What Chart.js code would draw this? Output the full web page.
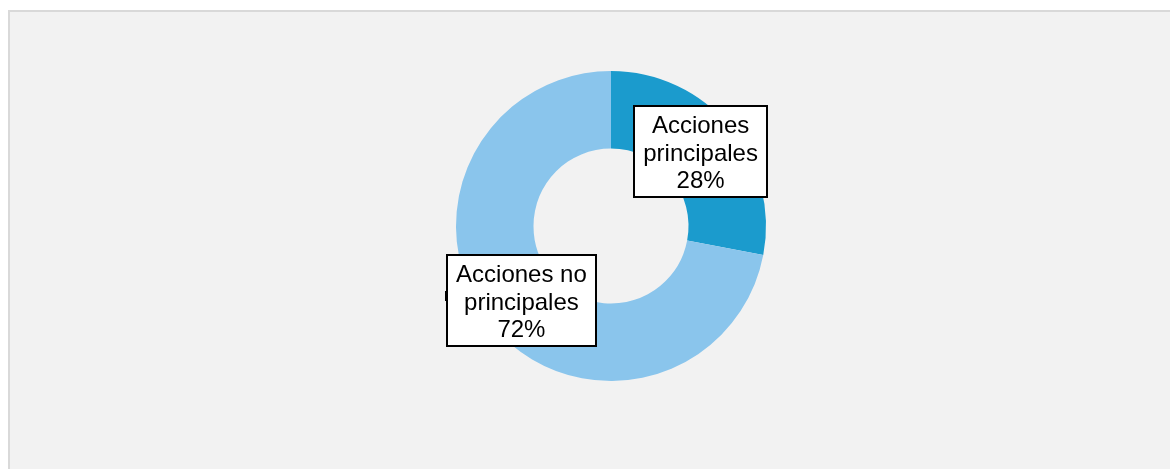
<!DOCTYPE html>
<html>
<head>
<meta charset="utf-8">
<script src="https://cdn.jsdelivr.net/npm/chart.js@4.4.1/dist/chart.umd.min.js"></script>
<style>
    html, body { margin: 0; padding: 0; background: #ffffff; }
    #wrap { position: relative; width: 1170px; height: 469px; overflow: hidden; }
    #panel {
        position: absolute; left: 8px; top: 10px; right: 0; bottom: 0;
        background: #f2f2f2;
        border-left: 2px solid #d9d9d9;
        border-top: 2px solid #d9d9d9;
    }
    #chart { position: absolute; left: 0; top: 0; }
</style>
</head>
<body>
<div id="wrap">
    <div id="panel"></div>
    <canvas id="chart" width="1170" height="469"></canvas>
</div>
<script>
// 数据
const categories = ['Acciones principales', 'Acciones no principales'];
const labelLines = [['Acciones', 'principales'], ['Acciones no', 'principales']];
const shares = [28, 72];
const sliceColors = ['#1b9bcd', '#8ac5ec'];

// 标签框插件：在每个扇区中心绘制白底黑框文字
const boxLabels = {
    id: 'boxLabels',
    afterDatasetsDraw(chart) {
        const ctx = chart.ctx;
        const meta = chart.getDatasetMeta(0);
        ctx.save();
        ctx.font = '24px "Liberation Sans", Arial, sans-serif';
        ctx.textAlign = 'center';
        ctx.textBaseline = 'middle';
        const lineH = 27.5;
        meta.data.forEach((arc, i) => {
            const pos = arc.tooltipPosition();
            const lines = labelLines[i].concat([shares[i] + '%']);
            let w = 0;
            lines.forEach(l => { w = Math.max(w, ctx.measureText(l).width); });
            const bw = Math.round(w + 18);
            const bh = Math.round(lines.length * lineH + 8);
            const x = Math.round(pos.x - bw / 2);
            const y = Math.round(pos.y - bh / 2);
            ctx.fillStyle = '#ffffff';
            ctx.fillRect(x, y, bw, bh);
            ctx.strokeStyle = '#000000';
            ctx.lineWidth = 2;
            ctx.strokeRect(x, y, bw, bh);
            // 引导线残留的小标记
            if (i === 1) {
                ctx.fillStyle = '#000000';
                ctx.fillRect(x - 2, Math.round(pos.y - 9), 3, 10);
            }
            ctx.fillStyle = '#000000';
            lines.forEach((l, k) => {
                ctx.fillText(l, pos.x, y + 6 + lineH * (k + 0.5) + 1);
            });
        });
        ctx.restore();
    }
};

new Chart(document.getElementById('chart'), {
    type: 'doughnut',
    data: {
        labels: categories,
        datasets: [{
            data: shares,
            backgroundColor: sliceColors,
            borderWidth: 0
        }]
    },
    options: {
        responsive: false,
        animation: false,
        cutout: '50%',
        layout: {
            padding: { left: 456, right: 404, top: 71, bottom: 88 }
        },
        plugins: {
            legend: { display: false },
            tooltip: { enabled: false }
        }
    },
    plugins: [boxLabels]
});
</script>
</body>
</html>
